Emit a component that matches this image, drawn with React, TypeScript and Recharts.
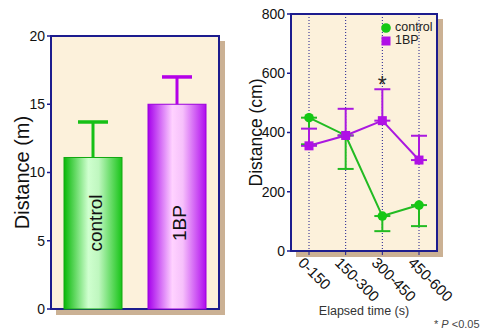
import React from 'react';
import {
  BarChart, Bar, XAxis, YAxis, CartesianGrid, ReferenceArea,
  LineChart, Line, ErrorBar, LabelList,
} from 'recharts';

// ---- data ----
const categories = ['control', '1BP'];
const totalDistance = [11.1, 15.0];
const totalError = [2.6, 2.0];
const totalTicks = [0, 5, 10, 15, 20];

const timeBins = ['0-150', '150-300', '300-450', '450-600'];
const controlDistance = [450, 390, 118, 155];
const controlError = [90, 113, 51, 71];
const bpDistance = [355, 390, 440, 307];
const bpError = [58, 90, 106, 82];
const significance = ['', '', '*', ''];
const timeTicks = [0, 200, 400, 600, 800];
const seriesNames = ['control', '1BP'];

const barData = categories.map((name, i) => ({ name, value: totalDistance[i], err: totalError[i] }));
const lineData = timeBins.map((bin, i) => ({
  bin,
  control: controlDistance[i],
  controlErr: [controlError[i], 0],
  bp: bpDistance[i],
  bpErr: [0, bpError[i]],
  sig: significance[i],
}));

// ---- styles ----
const FONT = '"Liberation Sans", Arial, sans-serif';
const NAVY = '#1c1c8e';
const BG = '#fcf1db';
const SHADOW = '#cbb194';
const GREEN = '#22bb22';
const GREEN_MK = '#14c814';
const PURPLE = '#aa18e0';
const PURPLE_MK = '#b010e6';
const barEdge = ['#12a812', '#9a00dc'];
const barLineColor = ['#16c016', '#b400e8'];
const X_PAD = 18;

const PlotFrame = (props: any) => {
  const { y, height, padX = 0 } = props;
  const x = props.x - padX;
  const width = props.width + 2 * padX;
  const off = 5;
  return (
    <g>
      <rect x={x + width} y={y + off} width={off + 1} height={height} fill={SHADOW} />
      <rect x={x + off} y={y + height} width={width + 1} height={off + 1} fill={SHADOW} />
      <rect x={x} y={y} width={width} height={height} fill="none" stroke={NAVY} strokeWidth={2} />
    </g>
  );
};

const BarWithWhisker = (props: any) => {
  const { x, y, width, height, payload, index } = props;
  const unit = height / payload.value;
  const errTop = y - payload.err * unit;
  const cx = x + width / 2;
  const col = barLineColor[index];
  const ty = y + height - 86;
  return (
    <g>
      <rect x={x} y={y} width={width} height={height} fill={`url(#barGrad${index})`} stroke={barEdge[index]} strokeWidth={1} />
      <line x1={cx} y1={y} x2={cx} y2={errTop} stroke={col} strokeWidth={3} />
      <line x1={cx - 15} y1={errTop} x2={cx + 15} y2={errTop} stroke={col} strokeWidth={3.5} />
      <text
        x={cx + 2}
        y={ty}
        transform={`rotate(-90 ${cx + 2} ${ty})`}
        textAnchor="middle"
        dominantBaseline="central"
        fontFamily={FONT}
        fontSize={19}
        fill="#111"
      >
        {payload.name}
      </text>
    </g>
  );
};

const RotatedTick = (props: any) => {
  const { x, y, payload } = props;
  const tx = x - 4;
  const ty = y - 1;
  return (
    <text
      x={tx}
      y={ty}
      dy="0.72em"
      transform={`rotate(45 ${tx} ${ty})`}
      textAnchor="start"
      fontFamily={FONT}
      fontSize={15}
      fill="#111"
    >
      {payload.value}
    </text>
  );
};

const SigLabel = (props: any) => {
  const { x, y, value } = props;
  if (!value) return null;
  return (
    <text x={x} y={y - 28} textAnchor="middle" fontFamily={FONT} fontSize={23} fill="#2a2a2a">
      {value}
    </text>
  );
};

const SquareDot = (props: any) => {
  const { cx, cy } = props;
  if (cx == null || cy == null) return null;
  return <rect x={cx - 4.5} y={cy - 4.5} width={9} height={9} fill={PURPLE_MK} />;
};

export default function App() {
  return (
    <div style={{ position: 'absolute', left: 0, top: 0, width: 485, height: 335, background: '#fff' }}>
      <svg width={0} height={0} style={{ position: 'absolute' }}>
        <defs>
          <linearGradient id="barGrad0" x1="0" y1="0" x2="1" y2="0">
            <stop offset="0" stopColor="#08b808" />
            <stop offset="0.42" stopColor="#cfffcf" />
            <stop offset="0.6" stopColor="#bff7bf" />
            <stop offset="1" stopColor="#18c418" />
          </linearGradient>
          <linearGradient id="barGrad1" x1="0" y1="0" x2="1" y2="0">
            <stop offset="0" stopColor="#a600ec" />
            <stop offset="0.42" stopColor="#ffd2ff" />
            <stop offset="0.6" stopColor="#f6c0fb" />
            <stop offset="1" stopColor="#b00cee" />
          </linearGradient>
        </defs>
      </svg>

      <div style={{ position: 'absolute', left: 0, top: 0 }}>
        <BarChart width={240} height={335} data={barData} margin={{ top: 36, right: 21, bottom: 26, left: 0 }}>
          <CartesianGrid horizontal={false} vertical={false} fill={BG} />
          <ReferenceArea y1={0} y2={20} ifOverflow="visible" shape={<PlotFrame padX={0} />} />
          <XAxis dataKey="name" tick={false} tickLine={false} height={0} axisLine={{ stroke: NAVY, strokeWidth: 2 }} />
          <YAxis
            width={51}
            domain={[0, 20]}
            ticks={totalTicks}
            interval={0}
            tickSize={4}
            tickMargin={2}
            axisLine={{ stroke: NAVY, strokeWidth: 2 }}
            tickLine={{ stroke: NAVY, strokeWidth: 1.5 }}
            tick={{ fontFamily: FONT, fontSize: 14, fill: '#111' }}
            label={{ value: 'Distance (m)', angle: -90, position: 'center', dx: -4, fontFamily: FONT, fontSize: 20, fill: '#111' }}
          />
          <Bar dataKey="value" barSize={58} isAnimationActive={false} shape={<BarWithWhisker />} />
        </BarChart>
      </div>

      <div style={{ position: 'absolute', left: 240, top: 0 }}>
        <LineChart width={245} height={335} data={lineData} margin={{ top: 14, right: 48, bottom: 0, left: 0 }}>
          <CartesianGrid horizontal={false} stroke={NAVY} strokeDasharray="1 2" fill={BG} />
          <ReferenceArea y1={0} y2={800} ifOverflow="visible" shape={<PlotFrame padX={X_PAD} />} />
          <XAxis
            dataKey="bin"
            height={84}
            interval={0}
            padding={{ left: X_PAD, right: X_PAD }}
            tickSize={4}
            tickMargin={2}
            axisLine={{ stroke: NAVY, strokeWidth: 2 }}
            tickLine={{ stroke: NAVY }}
            tick={<RotatedTick />}
            label={{ value: 'Elapsed time (s)', position: 'insideBottom', offset: 20, fontFamily: FONT, fontSize: 12.5, fill: '#333' }}
          />
          <YAxis
            width={51}
            domain={[0, 800]}
            ticks={timeTicks}
            interval={0}
            tickSize={4}
            tickMargin={2}
            axisLine={{ stroke: NAVY, strokeWidth: 2 }}
            tickLine={{ stroke: NAVY, strokeWidth: 1.5 }}
            tick={{ fontFamily: FONT, fontSize: 14, fill: '#111' }}
            label={{ value: 'Distance (cm)', angle: -90, position: 'center', dx: -10, fontFamily: FONT, fontSize: 17.5, fill: '#111' }}
          />
          <Line
            name={seriesNames[0]}
            dataKey="control"
            stroke={GREEN}
            strokeWidth={2}
            isAnimationActive={false}
            dot={{ r: 4.8, fill: GREEN_MK, stroke: GREEN_MK, strokeWidth: 0 }}
          >
            <ErrorBar dataKey="controlErr" direction="y" width={8} stroke={GREEN} strokeWidth={2} />
          </Line>
          <Line
            name={seriesNames[1]}
            dataKey="bp"
            stroke={PURPLE}
            strokeWidth={2}
            isAnimationActive={false}
            dot={<SquareDot />}
          >
            <ErrorBar dataKey="bpErr" direction="y" width={8} stroke={PURPLE} strokeWidth={2} />
            <LabelList dataKey="sig" content={<SigLabel />} />
          </Line>
        </LineChart>
      </div>

      <div style={{ position: 'absolute', left: 380, top: 21, fontFamily: FONT, fontSize: 12.5, color: '#222', lineHeight: '13px' }}>
        {seriesNames.map((name, i) => (
          <div key={name} style={{ display: 'flex', alignItems: 'center' }}>
            <svg width={12} height={12} style={{ marginRight: 3 }}>
              {i === 0 ? (
                <circle cx={6} cy={6} r={4.8} fill={GREEN_MK} />
              ) : (
                <rect x={1.5} y={1.5} width={9} height={9} fill={PURPLE_MK} />
              )}
            </svg>
            <span>{name}</span>
          </div>
        ))}
      </div>

      <div style={{ position: 'absolute', left: 434, top: 318, fontFamily: FONT, fontSize: 11, color: '#444', whiteSpace: 'nowrap' }}>
        * <i>P</i> &lt;0.05
      </div>
    </div>
  );
}
